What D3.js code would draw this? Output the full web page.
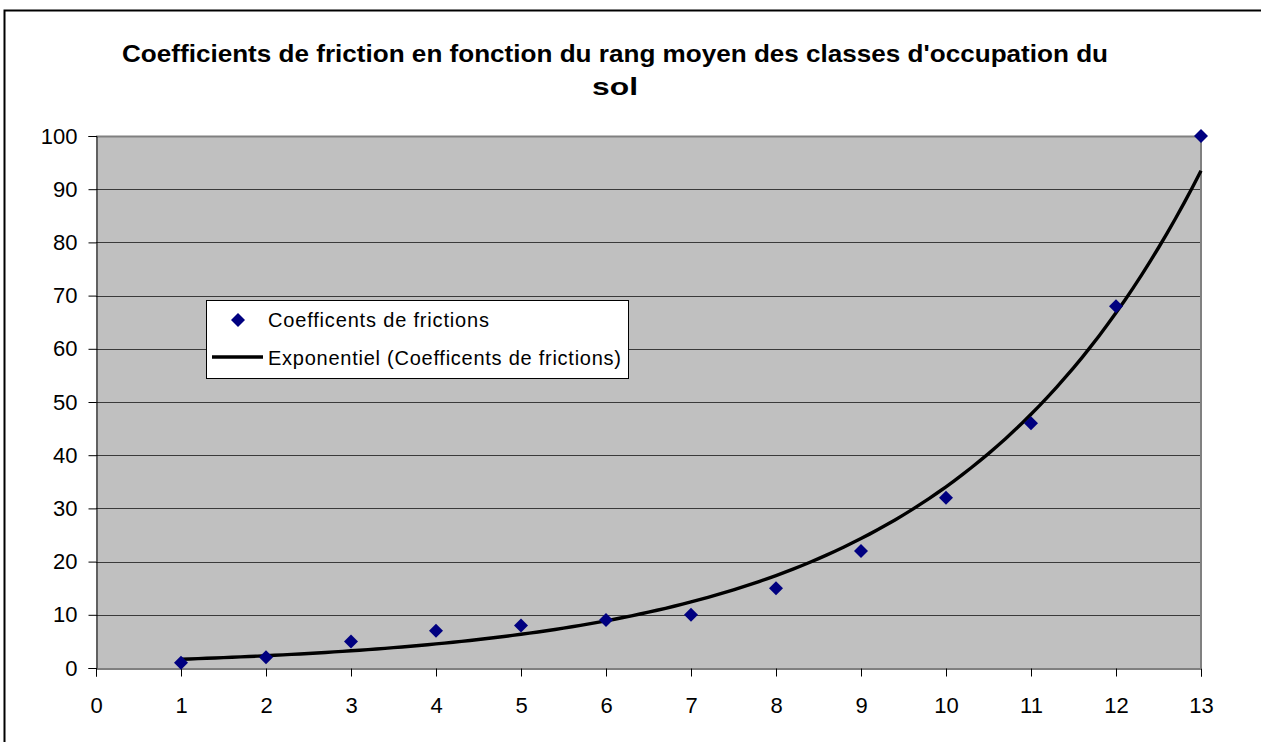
<!DOCTYPE html>
<html><head><meta charset="utf-8">
<script src="https://cdn.jsdelivr.net/npm/d3@7/dist/d3.min.js"></script>
<style>html,body{margin:0;padding:0;background:#fff;overflow:hidden}svg{display:block;font-family:Arial,"Liberation Sans",sans-serif}</style>
</head><body>
<svg id="c" width="1261" height="742"></svg>
<script>
const titleLines = ["Coefficients de friction en fonction du rang moyen des classes d'occupation du", "sol"];
const xValues = [1,2,3,4,5,6,7,8,9,10,11,12,13];
const yValues = [1,2,5,7,8,9,10,15,22,32,46,68,100];
const xTicks = [0,1,2,3,4,5,6,7,8,9,10,11,12,13];
const yTicks = [0,10,20,30,40,50,60,70,80,90,100];
const seriesName = "Coefficents de frictions";
const trendName = "Exponentiel (Coefficents de frictions)";

const svg = d3.select("#c");
const L = 96, R = 1201, T = 136, B = 668;
const x = d3.scaleLinear().domain([0,13]).range([L,R]);
const y = d3.scaleLinear().domain([0,100]).range([B,T]);
const FONT = "Arial, 'Liberation Sans', sans-serif";

// outer border
svg.append("rect").attr("x",4.5).attr("y",10.5).attr("width",1262).attr("height",740)
  .attr("fill","none").attr("stroke","#000").attr("stroke-width",2);

// title
svg.append("text").attr("x",615).attr("y",62).attr("text-anchor","middle")
  .attr("font-weight","bold").attr("font-size",24).attr("fill","#000").text(titleLines[0])
  .attr("textLength",986).attr("lengthAdjust","spacingAndGlyphs");
svg.append("text").attr("x",615).attr("y",95).attr("text-anchor","middle")
  .attr("font-weight","bold").attr("font-size",24).attr("fill","#000").text(titleLines[1])
  .attr("textLength",46).attr("lengthAdjust","spacingAndGlyphs");

// plot area
svg.append("rect").attr("x",L).attr("y",T).attr("width",R-L).attr("height",B-T).attr("fill","#c0c0c0");
// gridlines
svg.append("g").selectAll("line").data(yTicks.filter(d=>d>0)).join("line")
  .attr("x1",L).attr("x2",R).attr("y1",d=>Math.round(y(d))+0.5).attr("y2",d=>Math.round(y(d))+0.5)
  .attr("stroke",d=>d===100?"#808080":"#3a3a3a").attr("stroke-width",d=>d===100?2:1);
svg.append("line").attr("x1",R).attr("x2",R).attr("y1",T).attr("y2",B).attr("stroke","#808080").attr("stroke-width",2);

// axes
const yAxis = d3.axisLeft(y).tickValues(yTicks).tickSize(8).tickPadding(11).tickFormat(d3.format("d"));
const gy = svg.append("g").attr("transform",`translate(${L+0.5},0)`).call(yAxis);
const xAxis = d3.axisBottom(x).tickValues(xTicks).tickSize(8).tickPadding(21).tickFormat(d3.format("d"));
const gx = svg.append("g").attr("transform",`translate(0,${B+0.5})`).call(xAxis);
[gx,gy].forEach(g=>{
  g.attr("font-size",22).attr("font-family",FONT);
  g.select(".domain").attr("stroke","#000");
  g.selectAll(".tick line").attr("stroke","#000");
  g.selectAll(".tick text").attr("fill","#000");
});

// exponential fit (least squares on ln y), as Excel does
const ly = yValues.map(Math.log);
const mx = d3.mean(xValues), my = d3.mean(ly);
const b = d3.sum(xValues.map((v,i)=>(v-mx)*(ly[i]-my))) / d3.sum(xValues.map(v=>(v-mx)*(v-mx)));
const a = Math.exp(my - b*mx);
const fitX = d3.range(0,121).map(i=>1+i*0.1);
svg.append("path").datum(fitX)
  .attr("d", d3.line().x(d=>x(d)).y(d=>y(a*Math.exp(b*d))))
  .attr("fill","none").attr("stroke","#000").attr("stroke-width",3.4).attr("stroke-linejoin","round");

// markers
const mk = d3.symbol().type(d3.symbolSquare).size(98);
svg.append("g").selectAll("path").data(xValues.map((v,i)=>[v,yValues[i]])).join("path")
  .attr("d", mk).attr("transform",d=>`translate(${x(d[0])},${y(d[1])}) rotate(45)`)
  .attr("fill","#000080");

// legend
const lg = svg.append("g");
lg.append("rect").attr("x",206.5).attr("y",300.5).attr("width",422).attr("height",78).attr("fill","#fff").attr("stroke","#000");
lg.append("path").attr("d", mk).attr("transform","translate(238,320) rotate(45)").attr("fill","#000080");
lg.append("line").attr("x1",212).attr("x2",263).attr("y1",357).attr("y2",357).attr("stroke","#000").attr("stroke-width",3.4);
lg.append("text").attr("x",268).attr("y",327).attr("font-size",20).attr("font-family",FONT)
  .attr("textLength",221).attr("lengthAdjust","spacing").text(seriesName);
lg.append("text").attr("x",268).attr("y",365).attr("font-size",20).attr("font-family",FONT)
  .attr("textLength",353).attr("lengthAdjust","spacing").text(trendName);
</script>
</body></html>
